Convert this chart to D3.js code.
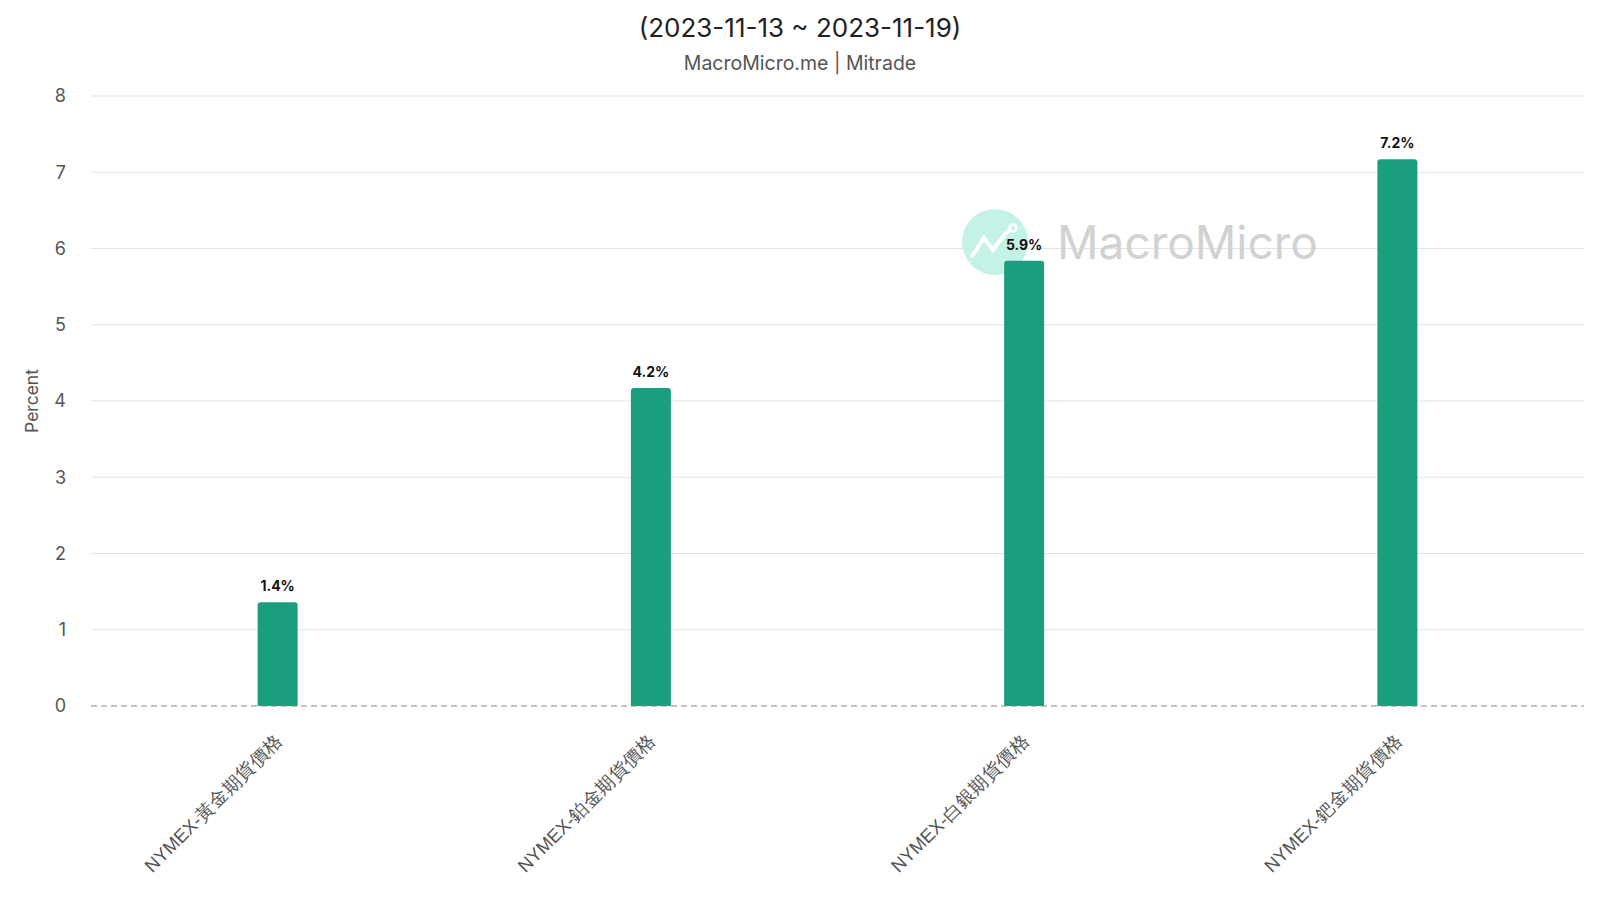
<!DOCTYPE html>
<html><head><meta charset="utf-8">
<script src="https://cdn.jsdelivr.net/npm/d3@7"></script>
<style>body{margin:0;background:#fff;font-family:Inter,"Noto Sans CJK TC",sans-serif;}</style>
</head><body><svg id="c" width="1600" height="900"></svg>
<script>
const categories = ["NYMEX-黃金期貨價格","NYMEX-鉑金期貨價格","NYMEX-白銀期貨價格","NYMEX-鈀金期貨價格"];
const values = [1.36, 4.17, 5.84, 7.17];
const valueLabels = ["1.4%","4.2%","5.9%","7.2%"];
const yTicks = [0,1,2,3,4,5,6,7,8];
const title = "(2023-11-13 ~ 2023-11-19)";
const subtitle = "MacroMicro.me | Mitrade";

const svg = d3.select("#c");
const m = {l:91, r:16, t:96, b:194};
const W = 1600, H = 900;
const x = d3.scaleBand().domain(categories).range([m.l, W-m.r]);
const y = d3.scaleLinear().domain([0,8]).range([H-m.b, m.t]);

svg.append("text").attr("x",800).attr("y",37).attr("text-anchor","middle")
  .attr("font-size",26).attr("fill","#222").text(title);
svg.append("text").attr("x",800).attr("y",70).attr("text-anchor","middle")
  .attr("font-size",19.5).attr("fill","#555").text(subtitle);

// grid
svg.append("g").selectAll("line").data(yTicks.filter(d=>d>0)).join("line")
  .attr("x1",m.l).attr("x2",W-m.r).attr("y1",d=>y(d)).attr("y2",d=>y(d))
  .attr("stroke","#e3e3e3").attr("stroke-width",1);

// y axis labels
const ya = svg.append("g").attr("transform",`translate(${m.l},0)`)
  .call(d3.axisLeft(y).tickValues(yTicks).tickSize(0).tickPadding(25));
ya.select(".domain").remove();
ya.selectAll("text").attr("font-size",18).attr("fill","#555").attr("font-family","Inter,sans-serif");

svg.append("text").attr("transform",`translate(38,${(y(0)+y(8))/2}) rotate(-90)`)
  .attr("text-anchor","middle").attr("font-size",17.5).attr("fill","#555").text("Percent");

// watermark
svg.append("circle").attr("cx",995).attr("cy",242).attr("r",33).attr("fill","#c4f2e7");
svg.append("path").attr("d","M972,256 L984,238 L993,250 L1005,234 M1005,234 L1010,230")
  .attr("stroke","#fff").attr("stroke-width",4).attr("fill","none").attr("stroke-linecap","round");
svg.append("circle").attr("cx",1013).attr("cy",228).attr("r",3.5).attr("fill","none").attr("stroke","#fff").attr("stroke-width",2.5);
svg.append("text").attr("x",1057).attr("y",259).attr("font-size",46).attr("fill","#d2d2d2").text("MacroMicro");

// bars
const bw = 40;
const rr = 3;
svg.append("g").selectAll("path").data(values).join("path")
  .attr("fill","#1b9e7d")
  .attr("d",(d,i)=>{
    const cx = x(categories[i]) + x.bandwidth()/2;
    const x0 = cx-bw/2, x1 = cx+bw/2, yt = y(d), yb = y(0);
    return `M${x0},${yb} L${x0},${yt+rr} Q${x0},${yt} ${x0+rr},${yt} L${x1-rr},${yt} Q${x1},${yt} ${x1},${yt+rr} L${x1},${yb} Z`;
  });

svg.append("g").selectAll("text").data(values).join("text")
  .attr("x",(d,i)=>x(categories[i]) + x.bandwidth()/2)
  .attr("y",d=>y(d)-11).attr("text-anchor","middle")
  .attr("font-size",14).attr("font-weight","bold").attr("fill","#111")
  .text((d,i)=>valueLabels[i]);

// zero line
svg.append("line").attr("x1",m.l).attr("x2",W-m.r).attr("y1",y(0)).attr("y2",y(0))
  .attr("stroke","#888").attr("stroke-dasharray","6,4").attr("stroke-width",1);

// x labels
const xa = svg.append("g").attr("transform",`translate(0,${y(0)})`)
  .call(d3.axisBottom(x).tickSize(0).tickPadding(0));
xa.select(".domain").remove();
xa.selectAll("text").attr("font-size",18.5).attr("fill","#555")
  .attr("text-anchor","end").attr("dy",0)
  .attr("transform","translate(6,36) rotate(-45)");
</script></body></html>
